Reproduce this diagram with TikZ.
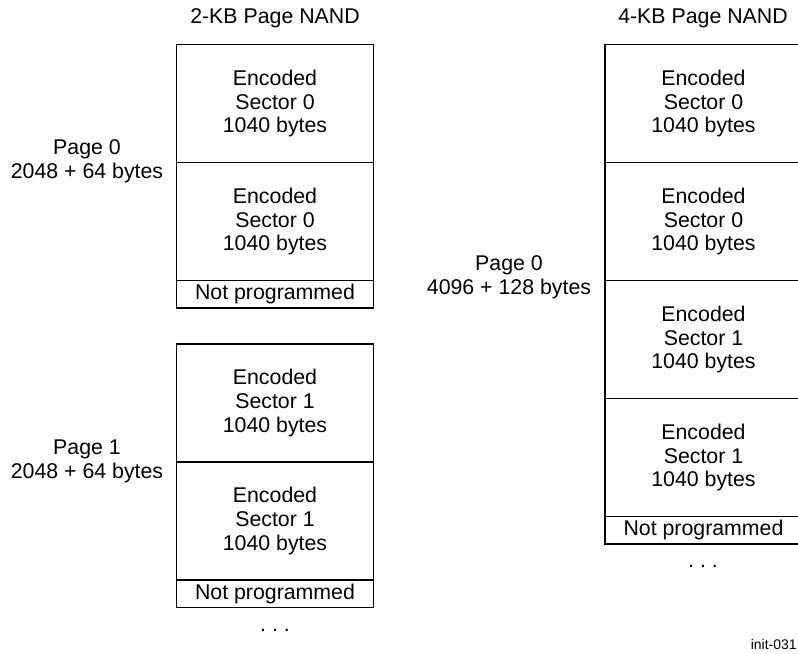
\documentclass[tikz,border=0pt]{standalone}
\usepackage{fontspec}
\setmainfont{Liberation Sans}
\usetikzlibrary{positioning}

\begin{document}
\begin{tikzpicture}[
  x=0.5bp,
  y=-0.5bp,
  font=\fontsize{10.7}{12}\selectfont,
  sector/.style={rectangle,draw,line width=0.65bp,outer sep=0pt,inner sep=0pt,
    minimum width=98.5bp,minimum height=59bp,align=center},
  npbox/.style={sector,minimum height=13.75bp},
  pagelbl/.style={align=center}
]%
  \clip (0,0) rectangle (798,654);

  % 2-KB page NAND
  \node (title2k) at (275,18) {2-KB Page NAND};
  \node[sector,anchor=north] (s2a) at (275,44.5) {Encoded\\Sector 0\\1040 bytes};
  \node[sector,below=0pt of s2a] (s2b) {Encoded\\Sector 0\\1040 bytes};
  \node[npbox,below=0pt of s2b] (np2a) {Not programmed};

  \node[sector,anchor=north] (s2c) at (275,344) {Encoded\\Sector 1\\1040 bytes};
  \node[sector,below=0pt of s2c] (s2d) {Encoded\\Sector 1\\1040 bytes};
  \node[npbox,below=0pt of s2d] (np2b) {Not programmed};
  \node (dots2k) at (275,630) {.\ .\ .};

  \node[pagelbl] (pg2a) at (87,161) {Page 0\\2048 + 64 bytes};
  \node[pagelbl] (pg2b) at (87,461) {Page 1\\2048 + 64 bytes};

  % 4-KB page NAND
  \node (title4k) at (703,18) {4-KB Page NAND};
  \node[sector,anchor=north] (s4a) at (703.5,44.5) {Encoded\\Sector 0\\1040 bytes};
  \node[sector,below=0pt of s4a] (s4b) {Encoded\\Sector 0\\1040 bytes};
  \node[sector,below=0pt of s4b] (s4c) {Encoded\\Sector 1\\1040 bytes};
  \node[sector,below=0pt of s4c] (s4d) {Encoded\\Sector 1\\1040 bytes};
  \node[npbox,below=0pt of s4d] (np4) {Not programmed};
  \node (dots4k) at (703,566) {.\ .\ .};

  \node[pagelbl] (pg4) at (509,277) {Page 0\\4096 + 128 bytes};

  % figure tag
  \node[anchor=east,inner sep=0pt,font=\fontsize{7}{8}\selectfont] (figtag) at (797,645) {init-031};

\end{tikzpicture}
\end{document}
